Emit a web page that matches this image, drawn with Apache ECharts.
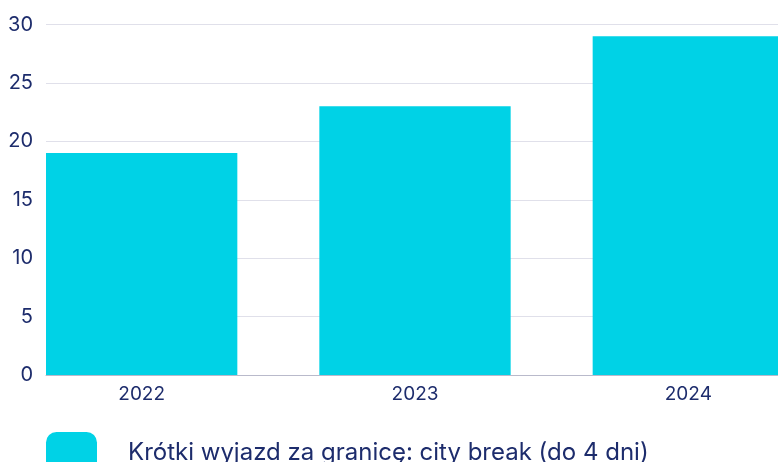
<!DOCTYPE html>
<html>
<head>
    <meta charset="utf-8" />
    <title>City break</title>
    <script src="https://cdn.jsdelivr.net/npm/echarts@6/dist/echarts.min.js"></script>
    <style>
        html, body { margin: 0; padding: 0; background: #fff; }
        #chart { width: 778px; height: 462px; }
    </style>
</head>
<body>
    <div id="chart"></div>
    <script>
        var years = ['2022', '2023', '2024'];
        var cityBreak = [19, 23, 29];
        var seriesName = 'Krótki wyjazd za granicę: city break (do 4 dni)';

        var navy = '#1d2c6c';
        var cyan = '#00d2e6';
        var fontName = 'Inter, "Noto Sans", sans-serif';

        var chart = echarts.init(document.getElementById('chart'));
        var option = {
            animation: false,
            // grid 0 carries the y axis and gridlines, grid 1 lays out the bars (runs past the right edge)
            grid: [
                { left: 46, right: 0, top: 24.5, bottom: 87, outerBoundsMode: 'none' },
                { left: 5, width: 820, top: 24.5, bottom: 87, outerBoundsMode: 'none' }
            ],
            legend: {
                data: [seriesName],
                left: 46,
                top: 432,
                padding: 0,
                icon: 'roundRect',
                itemWidth: 51,
                itemHeight: 42,
                textStyle: {
                    color: navy,
                    fontSize: 24,
                    fontFamily: fontName,
                    padding: [0, 0, 0, 26]
                }
            },
            xAxis: [
                {
                    gridIndex: 0,
                    type: 'category',
                    data: years,
                    axisLine: { lineStyle: { color: '#b9bacb', width: 1 } },
                    axisTick: { show: false },
                    axisLabel: { show: false }
                },
                {
                    gridIndex: 1,
                    type: 'category',
                    data: years,
                    axisLine: { show: false },
                    axisTick: { show: false },
                    axisLabel: {
                        color: navy,
                        fontSize: 19,
                        fontFamily: fontName,
                        margin: 10
                    }
                }
            ],
            yAxis: [
                {
                    gridIndex: 0,
                    type: 'value',
                    min: 0,
                    max: 30,
                    interval: 5,
                    axisLine: { show: false },
                    axisTick: { show: false },
                    axisLabel: {
                        color: navy,
                        fontSize: 20,
                        fontFamily: fontName,
                        margin: 13
                    },
                    splitLine: { lineStyle: { color: '#e0e0ea', width: 1 } }
                },
                {
                    gridIndex: 1,
                    type: 'value',
                    min: 0,
                    max: 30,
                    interval: 5,
                    show: false
                }
            ],
            series: [
                {
                    name: seriesName,
                    type: 'bar',
                    xAxisIndex: 1,
                    yAxisIndex: 1,
                    barCategoryGap: '30%',
                    itemStyle: { color: cyan },
                    data: cityBreak
                }
            ]
        };
        chart.setOption(option);
    </script>
</body>
</html>
